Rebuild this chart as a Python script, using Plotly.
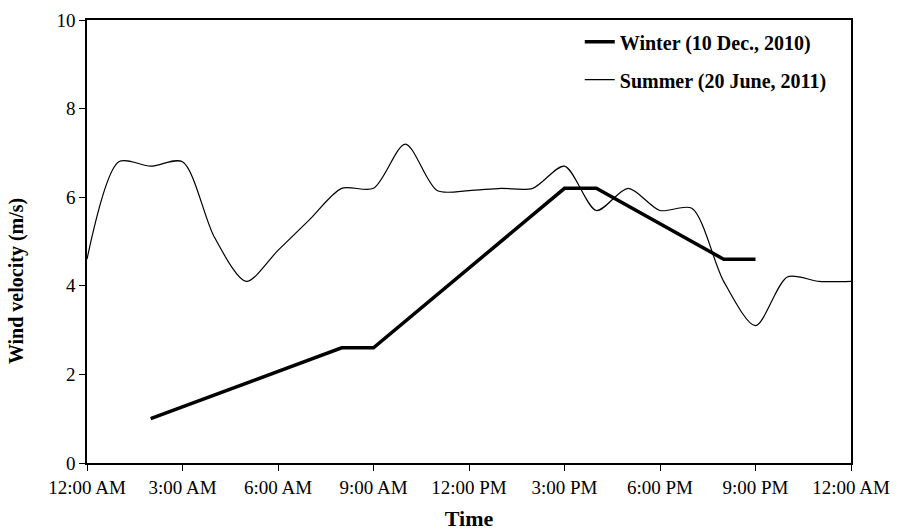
import plotly.graph_objects as go

# Data
hours_summer = list(range(0, 25))
summer = [4.6, 6.8, 6.7, 6.8, 5.1, 4.1, 4.8, 5.5, 6.2, 6.2, 7.2, 6.15, 6.15,
          6.2, 6.2, 6.7, 5.7, 6.2, 5.7, 5.75, 4.1, 3.1, 4.2, 4.1, 4.1]
hours_winter = [2, 8, 9, 15, 16, 20, 21]
winter = [1.0, 2.6, 2.6, 6.2, 6.2, 4.6, 4.6]
tick_vals = [0, 3, 6, 9, 12, 15, 18, 21, 24]
tick_text = ["12:00 AM", "3:00 AM", "6:00 AM", "9:00 AM", "12:00 PM",
             "3:00 PM", "6:00 PM", "9:00 PM", "12:00 AM"]

FONT = "Liberation Serif, Times New Roman, serif"

fig = go.Figure()
fig.add_trace(go.Scatter(x=hours_winter, y=winter, mode="lines",
                         name="<b>Winter (10 Dec., 2010)</b>",
                         line=dict(color="black", width=3.5),
                         legendgroup="w"))
fig.add_trace(go.Scatter(x=hours_summer, y=summer, mode="lines",
                         name="<b>Summer (20 June, 2011)</b>",
                         line=dict(color="black", width=1.2, shape="spline", smoothing=0.8),
                         legendgroup="s"))

fig.update_layout(
    width=899, height=532,
    margin=dict(l=87, r=48, t=20, b=69),
    paper_bgcolor="white", plot_bgcolor="white",
    font=dict(family=FONT, color="black", size=18),
    showlegend=True,
    legend=dict(x=0.645, y=0.995, xanchor="left", yanchor="top",
                bgcolor="rgba(0,0,0,0)", font=dict(size=20, family=FONT),
                tracegroupgap=9, itemwidth=30),
    xaxis=dict(range=[0, 24], tickvals=tick_vals, ticktext=tick_text,
               showgrid=False, zeroline=False, showline=True, linecolor="black",
               linewidth=1.5, mirror=True, ticks="outside", ticklen=6,
               tickcolor="black", tickfont=dict(size=19, family=FONT),
               automargin=False,
               title=dict(text="<b>Time</b>", font=dict(size=22, family=FONT), standoff=14)),
    yaxis=dict(range=[0, 10], tickvals=[0, 2, 4, 6, 8, 10],
               showgrid=False, zeroline=False, showline=True, linecolor="black",
               linewidth=1.5, mirror=True, ticks="outside", ticklen=6,
               tickcolor="black", tickfont=dict(size=19, family=FONT),
               automargin=False),
    annotations=[dict(text="<b>Wind velocity (m/s)</b>", textangle=-90,
                      xref="paper", yref="paper", x=-0.092, y=0.41,
                      xanchor="center", yanchor="middle", showarrow=False,
                      font=dict(size=20, family=FONT))],
)

fig.write_html("out.html")
